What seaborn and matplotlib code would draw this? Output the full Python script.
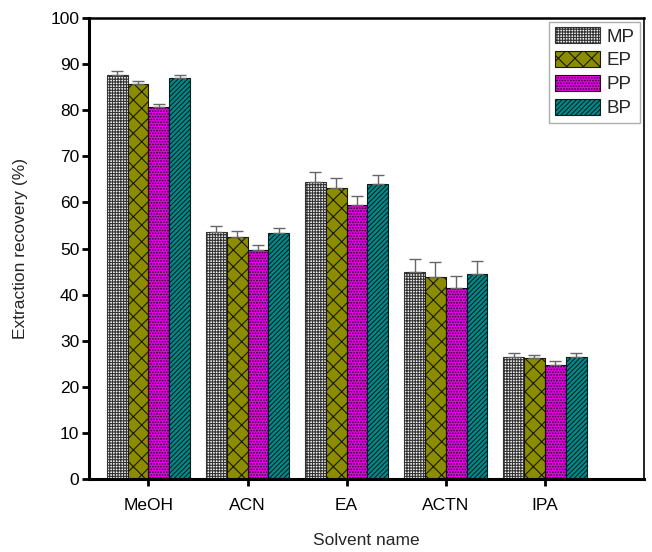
import numpy as np
import pandas as pd
import matplotlib
matplotlib.use("Agg")
import matplotlib.pyplot as plt
import seaborn as sns
from matplotlib.patches import Patch

solvents = ["MeOH", "ACN", "EA", "ACTN", "IPA"]
analytes = ["MP", "EP", "PP", "BP"]
recovery = {
    "MP": [87.6, 53.6, 64.4, 44.9, 26.5],
    "EP": [85.6, 52.6, 63.2, 43.9, 26.2],
    "PP": [80.6, 49.6, 59.4, 41.5, 24.8],
    "BP": [86.9, 53.3, 63.9, 44.4, 26.4],
}
errors = {
    "MP": [0.8, 1.3, 2.1, 2.8, 0.8],
    "EP": [0.8, 1.2, 2.2, 3.1, 0.7],
    "PP": [0.8, 1.2, 2.0, 2.6, 0.9],
    "BP": [0.8, 1.2, 2.0, 2.9, 0.9],
}

colors = {"MP": "#f4f4f4", "EP": "#8c8c00", "PP": "#e600e6", "BP": "#008b8b"}
hatches = {"MP": "++++++", "EP": "xx", "PP": "......", "BP": "///////"}
edges = {"MP": "#333333", "EP": "#1a1a00", "PP": "#1a001a", "BP": "#002020"}

rows = []
for a in analytes:
    for s, v in zip(solvents, recovery[a]):
        rows.append({"Solvent name": s, "Analyte": a, "Recovery": v})
df = pd.DataFrame(rows)

sns.set_style("ticks")
plt.rcParams["font.family"] = ["Liberation Sans", "DejaVu Sans"]
plt.rcParams["hatch.linewidth"] = 0.8

fig = plt.figure(figsize=(6.52, 5.52), dpi=100)
ax = fig.add_axes([0.1365, 0.1322, 0.8512, 0.8352])

sns.barplot(data=df, x="Solvent name", y="Recovery", hue="Analyte",
            order=solvents, hue_order=analytes, width=0.84,
            palette=colors, errorbar=None, ax=ax, legend=False,
            saturation=1)

bars = [p for p in ax.patches]
for i, a in enumerate(analytes):
    for j in range(len(solvents)):
        p = bars[i * len(solvents) + j]
        p.set_facecolor(colors[a])
        p.set_hatch(hatches[a])
        p.set_edgecolor(edges[a])
        p.set_linewidth(0.8)
        xc = p.get_x() + p.get_width() / 2
        h = p.get_height()
        ax.errorbar(xc, h, yerr=[[0], [errors[a][j]]], fmt="none",
                    ecolor="#666666", elinewidth=1.0, capsize=4,
                    capthick=1.0, zorder=1)

ax.set_xlim(-0.6, 5.0)
ax.set_ylim(0, 100)
ax.set_yticks(np.arange(0, 101, 10))
ax.set_xlabel("Solvent name", fontsize=12.5, labelpad=14)
ax.set_ylabel("Extraction recovery (%)", fontsize=12.5, labelpad=16)
ax.tick_params(axis="both", labelsize=12.5, width=2, length=5, colors="black")
for side in ["left", "bottom", "top", "right"]:
    ax.spines[side].set_visible(True)
    ax.spines[side].set_color("black")
ax.spines["left"].set_linewidth(2.2)
ax.spines["bottom"].set_linewidth(2.2)
ax.spines["top"].set_linewidth(1.8)
ax.spines["right"].set_linewidth(1.2)
ax.tick_params(axis="x", pad=9)
ax.tick_params(axis="y", pad=2)

handles = [Patch(facecolor=colors[a], edgecolor=edges[a], hatch=hatches[a],
                 linewidth=0.8, label=a) for a in analytes]
leg = ax.legend(handles=handles, loc="upper right", fontsize=13.5,
                frameon=True, fancybox=False, edgecolor="#999999",
                handlelength=2.4, handleheight=0.9, handletextpad=0.35,
                labelspacing=0.3, borderpad=0.3, borderaxespad=0.2)
leg.get_frame().set_linewidth(1.0)

fig.savefig("out.png", dpi=100)
